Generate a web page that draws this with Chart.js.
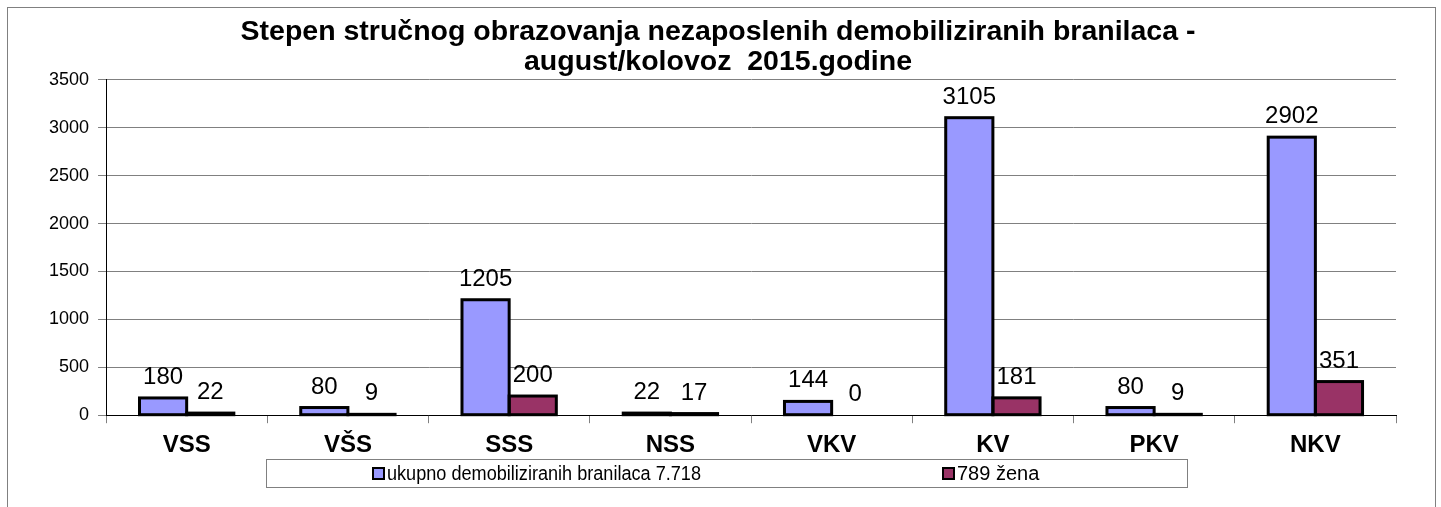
<!DOCTYPE html>
<html>
<head>
<meta charset="utf-8">
<script src="https://cdn.jsdelivr.net/npm/chart.js@4.4.0/dist/chart.umd.min.js"></script>
<style>
  html, body { margin: 0; padding: 0; background: #fff; }
  #wrap { width: 1441px; height: 507px; }
</style>
</head>
<body>
<div id="wrap"><canvas id="my-chart" width="1441" height="507"></canvas></div>
<script>
'use strict';

// ******* DATA *********
let categories = ['VSS', 'VŠS', 'SSS', 'NSS', 'VKV', 'KV', 'PKV', 'NKV'];
let totalValues = [180, 80, 1205, 22, 144, 3105, 80, 2902];
let womenValues = [22, 9, 200, 17, 0, 181, 9, 351];
let seriesNames = ['ukupno demobiliziranih branilaca 7.718', '789 žena'];
let seriesColors = ['#9999FF', '#993366'];
let titleLines = ['Stepen stručnog obrazovanja nezaposlenih demobiliziranih branilaca -', 'august/kolovoz  2015.godine'];

let fontFamily = '"Liberation Sans", Arial, sans-serif';

// ***** PLUGINS *****
// outer frame of the chart
let framePlugin = {
  id: 'frame',
  beforeDraw(chart) {
    let c = chart.ctx;
    c.save();
    c.fillStyle = '#fff';
    c.fillRect(0, 0, chart.width, chart.height);
    c.strokeStyle = '#808080';
    c.lineWidth = 1;
    c.strokeRect(7.5, 7.5, 1428, 520);
    c.restore();
  }
};

// excel style bar outlines (stroke centred on the bar edge) + value labels
let barOutlines = {
  id: 'barOutlines',
  afterDatasetsDraw(chart) {
    let c = chart.ctx;
    c.save();
    chart.data.datasets.forEach((ds, i) => {
      let meta = chart.getDatasetMeta(i);
      meta.data.forEach((bar, j) => {
        if (ds.data[j] > 0) {
          c.strokeStyle = '#000';
          c.lineWidth = 3;
          c.strokeRect(bar.x - bar.width / 2, bar.y, bar.width, bar.base - bar.y);
        }
        c.font = '24px ' + fontFamily;
        c.fillStyle = '#000';
        c.textAlign = 'center';
        c.textBaseline = 'alphabetic';
        c.fillText(String(ds.data[j]), bar.x, bar.y - 14);
      });
    });
    c.restore();
  }
};

// boxed legend under the axis
let boxLegend = {
  id: 'boxLegend',
  afterDraw(chart) {
    let c = chart.ctx;
    let top = 459;
    let left = 266;
    c.save();
    c.strokeStyle = '#808080';
    c.lineWidth = 1;
    c.strokeRect(left + 0.5, top + 0.5, 921, 28);
    let itemX = [left + 107, left + 677];
    let maxW = [314, 95];
    c.font = '20px ' + fontFamily;
    c.textBaseline = 'middle';
    c.textAlign = 'left';
    seriesNames.forEach((name, i) => {
      c.fillStyle = seriesColors[i];
      c.fillRect(itemX[i], top + 9, 11, 11);
      c.strokeStyle = '#000';
      c.lineWidth = 2;
      c.strokeRect(itemX[i], top + 9, 11, 11);
      c.fillStyle = '#000';
      c.fillText(name, itemX[i] + 14, top + 15, maxW[i]);
    });
    c.restore();
  }
};

let ctx = document.getElementById('my-chart');

let chartObj = {
  type: 'bar',
  data: {
    labels: categories,
    datasets: [{
      label: seriesNames[0],
      data: totalValues,
      backgroundColor: seriesColors[0],
      borderWidth: 0,
      categoryPercentage: 0.585,
      barPercentage: 1
    },
    {
      label: seriesNames[1],
      data: womenValues,
      backgroundColor: seriesColors[1],
      borderWidth: 0,
      categoryPercentage: 0.585,
      barPercentage: 1
    }]
  },
  options: {
    responsive: false,
    animation: false,
    layout: {
      padding: { left: 40, right: 45, top: 9, bottom: 39 }
    },
    plugins: {
      title: {
        display: true,
        text: titleLines,
        color: '#000',
        font: { family: fontFamily, size: 28.5, weight: 'bold', lineHeight: 1.05 },
        padding: { top: 8, bottom: 3 }
      },
      legend: { display: false },
      tooltip: { enabled: false }
    },
    scales: {
      x: {
        grid: {
          offset: true,
          drawOnChartArea: false,
          drawTicks: true,
          tickLength: 8,
          color: '#808080'
        },
        border: { color: '#000', width: 1 },
        ticks: {
          color: '#000',
          font: { family: fontFamily, size: 24, weight: 'bold' },
          padding: 8
        }
      },
      y: {
        min: 0,
        max: 3500,
        grid: {
          color: '#808080',
          tickLength: 8
        },
        border: { color: '#000', width: 1 },
        ticks: {
          stepSize: 500,
          color: '#000',
          font: { family: fontFamily, size: 18 },
          padding: 9,
          callback: (v) => String(v)
        }
      }
    }
  },
  plugins: [framePlugin, barOutlines, boxLegend]
};

new Chart(ctx, chartObj); //eslint-disable-line
</script>
</body>
</html>
